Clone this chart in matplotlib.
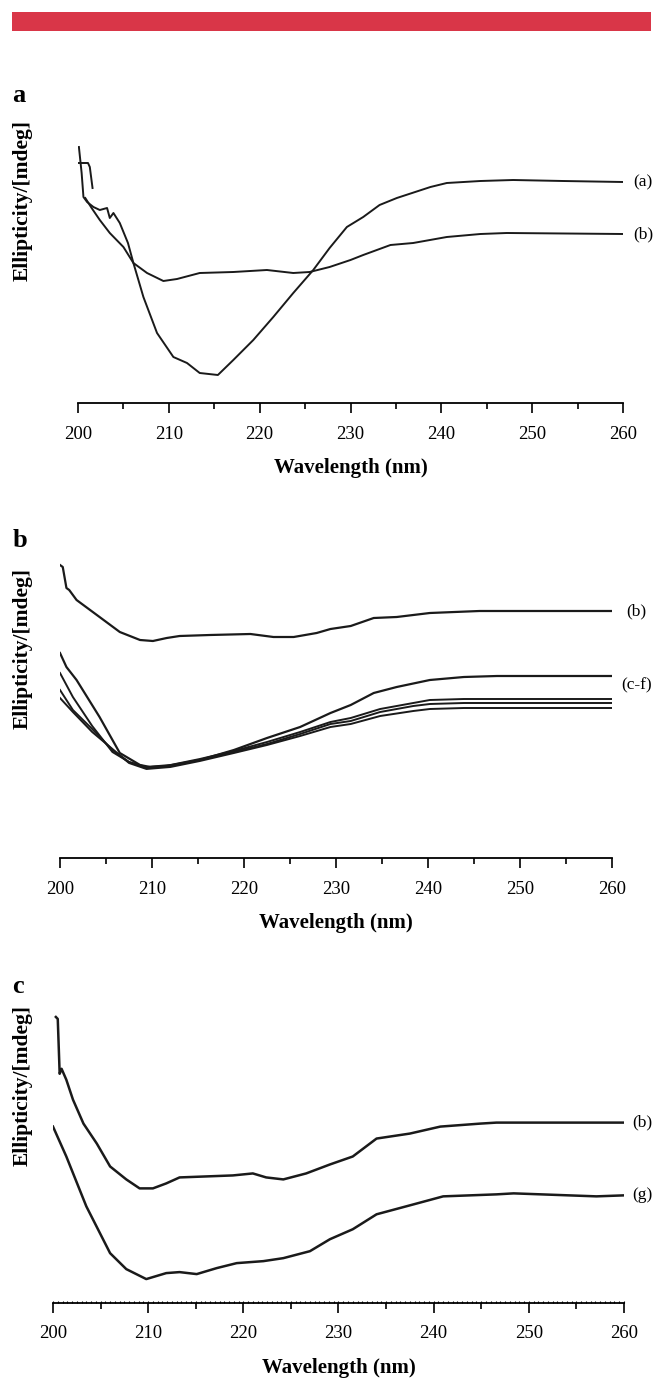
import matplotlib
matplotlib.use("Agg")
import matplotlib.pyplot as plt
from matplotlib.patches import Rectangle
from matplotlib.ticker import MultipleLocator
import numpy as np

# CD spectra (wavelength in nm, ellipticity in mdeg, relative)

# panel a
a_wl_a = [200.1, 200.4, 200.6, 201.0, 201.7, 202.4, 203.2, 203.5, 203.9, 204.6, 205.5,
          206.1, 207.2, 208.7, 210.5, 212.0, 213.4, 215.4, 217.1, 219.3, 221.5, 223.7,
          225.9, 227.7, 229.6, 231.4, 233.2, 235.1, 238.8, 240.6, 244.3, 247.9, 253.4, 260.0]
a_el_a = [3.5, 0.9, -1.5, -2.0, -2.5, -2.8, -2.6, -3.6, -3.1, -4.1, -6.1,
          -8.1, -11.5, -15.1, -17.5, -18.1, -19.1, -19.3, -17.8, -15.8, -13.5, -11.1,
          -8.8, -6.6, -4.5, -3.5, -2.3, -1.6, -0.5, -0.1, 0.1, 0.2, 0.1, 0.0]
a_wl_b_start = [200.1, 201.1, 201.3, 201.6]
a_el_b_start = [1.9, 1.9, 1.5, -0.6]
a_wl_b = [200.8, 201.5, 202.4, 203.5, 205.0, 206.1, 207.6, 209.4, 210.9, 213.4, 217.1,
          220.8, 223.7, 225.5, 227.7, 230.0, 231.4, 234.4, 236.9, 240.6, 244.3, 247.2, 260.0]
a_el_b = [-1.6, -2.6, -3.8, -5.1, -6.5, -8.1, -9.1, -9.9, -9.7, -9.1, -9.0,
          -8.8, -9.1, -9.0, -8.5, -7.8, -7.3, -6.3, -6.1, -5.5, -5.2, -5.1, -5.2]

# panel b
b_wl_b = [200.0, 200.3, 200.7, 201.0, 201.8, 204.3, 206.5, 208.7, 210.1, 211.6, 213.0,
          216.3, 220.7, 223.2, 225.4, 227.9, 229.4, 231.6, 234.1, 236.6, 240.2, 245.6, 260.0]
b_el_b = [4.6, 4.4, 2.3, 2.1, 1.1, -0.6, -2.1, -2.9, -3.0, -2.7, -2.5,
          -2.4, -2.3, -2.6, -2.6, -2.2, -1.8, -1.5, -0.7, -0.6, -0.2, 0.0, 0.0]
b_wl_c = [200.0, 200.7, 201.8, 204.3, 206.5, 208.7, 209.8, 211.6, 215.2, 218.9, 222.5,
          226.1, 229.4, 231.6, 234.1, 236.6, 240.2, 243.9, 247.5, 254.7, 260.0]
b_el_c = [-4.2, -5.6, -6.9, -10.6, -14.2, -15.4, -15.6, -15.5, -14.9, -13.9, -12.7,
          -11.6, -10.2, -9.4, -8.2, -7.6, -6.9, -6.6, -6.5, -6.5, -6.5]
b_wl_low = [200.0, 201.4, 203.5, 205.7, 207.5, 209.4, 212.0, 215.2, 218.9, 222.5, 226.1,
            229.4, 231.6, 234.8, 238.4, 240.2, 243.9, 250.0, 260.0]
b_el_d = [-6.2, -8.6, -11.5, -14.1, -15.1, -15.6, -15.4, -14.8, -14.0, -13.1, -12.1,
          -11.1, -10.7, -9.8, -9.2, -8.9, -8.8, -8.8, -8.8]
b_el_e = [-7.9, -9.9, -11.8, -13.9, -15.1, -15.7, -15.5, -14.9, -14.1, -13.3, -12.3,
          -11.3, -11.0, -10.1, -9.5, -9.3, -9.2, -9.2, -9.2]
b_el_f = [-8.7, -10.1, -12.1, -13.8, -15.2, -15.8, -15.6, -15.0, -14.2, -13.4, -12.5,
          -11.6, -11.3, -10.5, -10.0, -9.8, -9.7, -9.7, -9.7]

# panel c
c_wl_b = [200.3, 200.5, 200.7, 200.9, 201.4, 202.1, 203.2, 204.6, 206.0, 207.7, 209.1,
          210.5, 211.9, 213.3, 216.1, 218.9, 221.0, 222.4, 224.2, 226.6, 229.1, 231.5,
          234.0, 237.5, 240.7, 244.9, 246.6, 260.0]
c_el_b = [10.6, 10.4, 4.9, 5.4, 4.3, 2.3, -0.1, -2.1, -4.4, -5.7, -6.6,
          -6.6, -6.1, -5.5, -5.4, -5.3, -5.1, -5.5, -5.7, -5.1, -4.2, -3.4,
          -1.6, -1.1, -0.4, -0.1, 0.0, 0.0]
c_wl_g = [200.0, 201.4, 203.5, 206.0, 207.7, 209.8, 211.9, 213.3, 215.1, 217.2, 219.3,
          222.1, 224.2, 227.0, 229.1, 231.5, 234.0, 237.9, 241.0, 246.6, 248.4, 257.1, 260.0]
c_el_g = [-0.4, -3.4, -8.4, -13.1, -14.7, -15.7, -15.1, -15.0, -15.2, -14.6, -14.1,
          -13.9, -13.6, -12.9, -11.7, -10.7, -9.2, -8.2, -7.4, -7.2, -7.1, -7.4, -7.3]

x_ticks = [200, 210, 220, 230, 240, 250, 260]

W, H = 655, 1382
SERIF = ["Liberation Serif", "DejaVu Serif"]
plt.rcParams["font.family"] = SERIF

fig = plt.figure(figsize=(W / 100, H / 100), dpi=100)


def px_axes(left, right, top, bottom):
    return fig.add_axes([left / W, 1 - bottom / H, (right - left) / W, (bottom - top) / H])


def style_axes(ax, ylim, fine=False):
    ax.set_xlim(200, 260)
    ax.set_ylim(*ylim)
    for s in ["left", "right", "top"]:
        ax.spines[s].set_visible(False)
    ax.spines["bottom"].set_linewidth(1.3)
    ax.set_yticks([])
    ax.set_xticks(x_ticks)
    ax.xaxis.set_minor_locator(MultipleLocator(5))
    ax.tick_params(axis="x", which="major", direction="out", length=7.2, width=1.2,
                   pad=9, labelsize=13.5)
    ax.tick_params(axis="x", which="minor", direction="out", length=4.3, width=1.2)
    ax.set_xlabel("Wavelength (nm)", fontsize=15, fontweight="bold", labelpad=11)
    ax.set_ylabel("Ellipticity/[mdeg]", fontsize=15.5, fontweight="bold")
    ax.patch.set_alpha(0)
    if fine:
        tx = ax.twiny()
        tx.set_xlim(200, 260)
        tx.xaxis.set_ticks_position("bottom")
        tx.set_xticks(np.arange(200, 260.1, 0.5))
        tx.tick_params(axis="x", direction="in", length=1.6, width=0.8, labelbottom=False,
                       labeltop=False)
        for s in tx.spines.values():
            s.set_visible(False)


# red band at the top
fig.add_artist(Rectangle((12 / W, 1 - 31 / H), (651 - 12) / W, 19 / H,
                         transform=fig.transFigure, color="#d93648", lw=0))

# panel a
ax1 = px_axes(78, 623, 140, 403)
ax1.plot(a_wl_a, a_el_a, color="#1a1a1a", lw=1.4)
ax1.plot(a_wl_b_start, a_el_b_start, color="#1a1a1a", lw=1.4)
ax1.plot(a_wl_b, a_el_b, color="#1a1a1a", lw=1.4)
style_axes(ax1, (-22.1, 4.2))
ax1.yaxis.set_label_coords(-0.083, 0.77)
ax1.text(261.1, a_el_a[-1], "(a)", fontsize=12.5, va="center", ha="left", clip_on=False)
ax1.text(261.1, a_el_b[-1], "(b)", fontsize=12.5, va="center", ha="left", clip_on=False)
fig.text(12 / W, 1 - 102 / H, "a", fontsize=19, fontweight="bold")

# panel b
ax2 = px_axes(60, 612, 555, 858)
ax2.plot(b_wl_b, b_el_b, color="#1a1a1a", lw=1.6)
ax2.plot(b_wl_c, b_el_c, color="#1a1a1a", lw=1.6)
for el in (b_el_d, b_el_e, b_el_f):
    ax2.plot(b_wl_low, el, color="#1a1a1a", lw=1.4)
style_axes(ax2, (-24.7, 5.6))
ax2.yaxis.set_label_coords(-0.049, 0.69)
ax2.text(261.5, b_el_b[-1], "(b)", fontsize=12.5, va="center", ha="left", clip_on=False)
ax2.text(261.0, b_el_c[-1] - 0.9, "(c-f)", fontsize=12.5, va="center", ha="left",
         clip_on=False)
fig.text(13 / W, 1 - 547 / H, "b", fontsize=19, fontweight="bold")

# panel c
ax3 = px_axes(53, 624, 1005, 1303)
ax3.plot(c_wl_b, c_el_b, color="#1a1a1a", lw=1.8)
ax3.plot(c_wl_g, c_el_g, color="#1a1a1a", lw=1.8)
style_axes(ax3, (-18.1, 11.8), fine=True)
ax3.yaxis.set_label_coords(-0.035, 0.73)
ax3.text(260.9, c_el_b[-1], "(b)", fontsize=12.5, va="center", ha="left", clip_on=False)
ax3.text(260.9, c_el_g[-1], "(g)", fontsize=12.5, va="center", ha="left", clip_on=False)
fig.text(12 / W, 1 - 993 / H, "c", fontsize=19, fontweight="bold")

fig.savefig("out.png", dpi=100)
